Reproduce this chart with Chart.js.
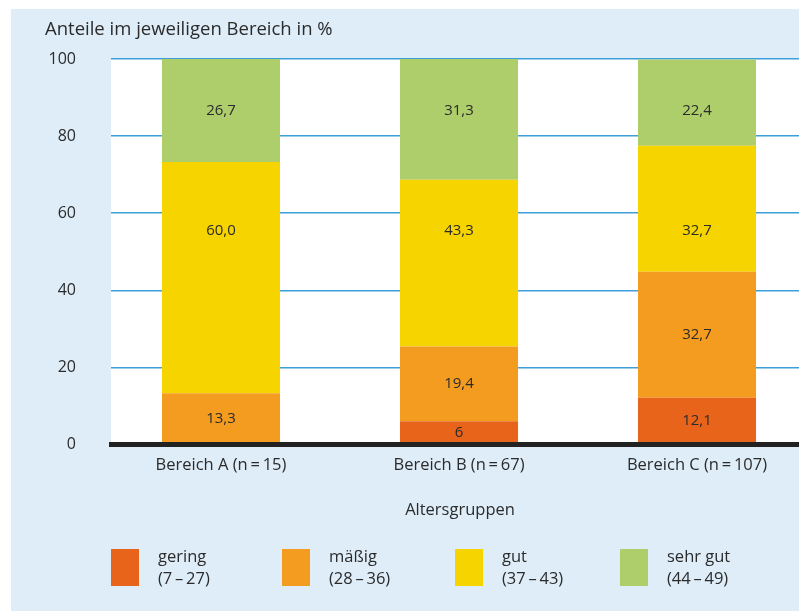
<!DOCTYPE html>
<html>
<head>
<meta charset="utf-8">
<script src="https://cdn.jsdelivr.net/npm/chart.js@4.4.0/dist/chart.umd.min.js"></script>
<style>
  html, body { margin: 0; padding: 0; background: #ffffff; width: 799px; height: 611px; overflow: hidden; }
  #panel { position: absolute; left: 11px; top: 9px; width: 788px; height: 602px; background: #deedf8; overflow: hidden; }
  canvas { position: absolute; left: 0; top: 0; }
</style>
</head>
<body>
<div id="panel"><canvas id="c" width="798" height="602"></canvas></div>
<script>
// ---- data ----
const categories = ['Bereich A (n\u2009=\u200915)', 'Bereich B (n\u2009=\u200967)', 'Bereich C (n\u2009=\u2009107)'];
const gering   = [0, 6, 12.1];
const maessig  = [13.3, 19.4, 32.7];
const gut      = [60.0, 43.3, 32.7];
const sehrGut  = [26.7, 31.3, 22.4];
const seriesNames  = ['gering', 'mäßig', 'gut', 'sehr gut'];
const seriesRanges = ['(7\u2009\u2013\u200927)', '(28\u2009\u2013\u200936)', '(37\u2009\u2013\u200943)', '(44\u2009\u2013\u200949)'];
const yTicks = [0, 20, 40, 60, 80, 100];
const yTitle = 'Anteile im jeweiligen Bereich in %';
const xTitle = 'Altersgruppen';

const colors = ['#e8641b', '#f49c20', '#f6d400', '#aecd6b'];
// value-axis level at which the value labels of a series are placed (null = segment centre)
const labelLevels = [null, null, 55.5, 86.6];
const FONT = "'Open Sans', sans-serif";
const TEXT = '#2b2b2b';

function fmt(v) {
  return (Number.isInteger(v) && v < 10) ? String(v) : v.toFixed(1).replace('.', ',');
}
const seriesValues = [gering, maessig, gut, sehrGut];
const datasets = seriesValues.map((vals, s) => ({
  label: seriesNames[s],
  data: vals.map((v, i) => ({ x: i, y: v })),
  backgroundColor: colors[s],
  borderWidth: 0,
  barPercentage: 0.496,
  categoryPercentage: 1
}));

const plotBg = {
  id: 'plotBg',
  beforeDraw(chart) {
    const { ctx, chartArea: a } = chart;
    ctx.save();
    ctx.fillStyle = '#ffffff';
    ctx.fillRect(a.left, a.top, a.right - a.left, a.bottom - a.top);
    ctx.restore();
  }
};

const valueLabels = {
  id: 'valueLabels',
  afterDatasetsDraw(chart) {
    const { ctx } = chart;
    const yScale = chart.scales.y;
    ctx.save();
    ctx.font = '15px ' + FONT;
    ctx.fillStyle = TEXT;
    ctx.textAlign = 'center';
    ctx.textBaseline = 'middle';
    chart.data.datasets.forEach((ds, d) => {
      const meta = chart.getDatasetMeta(d);
      meta.data.forEach((el, i) => {
        const v = seriesValues[d][i];
        if (!v) return;
        const p = el.getProps(['x', 'y', 'base'], true);
        const y = labelLevels[d] == null ? (p.y + p.base) / 2 : yScale.getPixelForValue(labelLevels[d]);
        ctx.fillText(fmt(v), p.x, y);
      });
    });
    ctx.restore();
  }
};

const customLegend = {
  id: 'customLegend',
  afterDraw(chart) {
    const { ctx } = chart;
    ctx.save();
    ctx.font = '16.5px ' + FONT;
    ctx.textAlign = 'left';
    ctx.textBaseline = 'middle';
    const legendX = [100, 271, 444, 609], boxTop = 540, boxW = 28, boxH = 37;
    seriesNames.forEach((name, s) => {
      const x = legendX[s];
      ctx.fillStyle = colors[s];
      ctx.fillRect(x, boxTop, boxW, boxH);
      ctx.fillStyle = TEXT;
      ctx.fillText(name, x + 47, boxTop + 8);
      ctx.fillText(seriesRanges[s], x + 47, boxTop + 30);
    });
    ctx.restore();
  }
};

new Chart(document.getElementById('c'), {
  type: 'bar',
  data: { datasets },
  plugins: [plotBg, valueLabels, customLegend],
  options: {
    responsive: false,
    animation: false,
    layout: { padding: { left: 34, right: 0, top: 0, bottom: 75 } },
    plugins: {
      legend: { display: false },
      tooltip: { enabled: false },
      title: {
        display: true,
        text: yTitle,
        align: 'start',
        color: TEXT,
        font: { family: FONT, size: 18.5, weight: 'normal' },
        padding: { top: 9.9, bottom: 17.9 }
      }
    },
    scales: {
      x: {
        type: 'linear',
        stacked: true,
        offset: false,
        min: -0.4622,
        max: 2.4706,
        grid: { display: false, drawTicks: false, offset: false },
        border: { display: true, color: '#222222', width: 5, z: 1 },
        afterBuildTicks(scale) { scale.ticks = categories.map((c, i) => ({ value: i })); },
        afterFit(scale) { scale.height = 91.5; },
        ticks: {
          autoSkip: false,
          maxRotation: 0,
          padding: 10.5,
          color: TEXT,
          font: { family: FONT, size: 16.5 },
          callback: (v) => categories[v]
        },
        title: {
          display: true,
          text: xTitle,
          color: TEXT,
          font: { family: FONT, size: 16.5 },
          padding: { top: 0, bottom: 16 }
        }
      },
      y: {
        stacked: true,
        min: 0,
        max: 100,
        afterBuildTicks(scale) { scale.ticks = yTicks.map(v => ({ value: v })); },
        afterFit(scale) { scale.width = 66; },
        grid: { color: '#3c9fd9', lineWidth: 1.5, drawTicks: false },
        border: { display: false },
        ticks: {
          padding: 35,
          color: TEXT,
          font: { family: FONT, size: 16 }
        }
      }
    }
  }
});
</script>
</body>
</html>
